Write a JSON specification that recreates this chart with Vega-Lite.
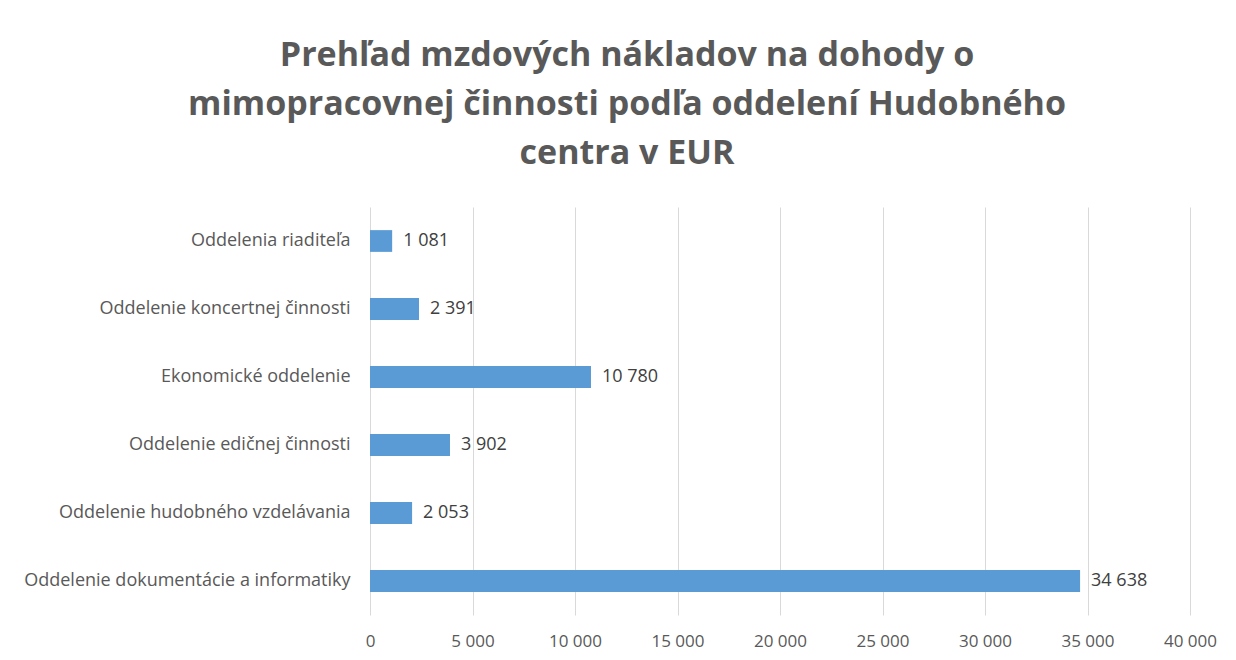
{
  "$schema": "https://vega.github.io/schema/vega-lite/v6.json",
  "autosize": "none",
  "width": 820,
  "height": 408,
  "padding": {"left": 370, "top": 207, "right": 46, "bottom": 45},
  "background": "white",
  "config": {
    "locale": {"number": {"decimal": ",", "thousands": " ", "grouping": [3], "currency": ["", " €"]}},
    "view": {"stroke": null},
    "font": "Open Sans"
  },
  "title": {
    "text": ["Prehľad mzdových nákladov na dohody o", "mimopracovnej činnosti podľa oddelení Hudobného", "centra v EUR"],
    "font": "Open Sans",
    "fontSize": 34,
    "fontWeight": "bold",
    "color": "#595959",
    "lineHeight": 49,
    "anchor": "middle",
    "dx": -153,
    "offset": 36
  },
  "data": {
    "values": [
      {"oddelenie": "Oddelenia riaditeľa", "naklady": 1081},
      {"oddelenie": "Oddelenie koncertnej činnosti", "naklady": 2391},
      {"oddelenie": "Ekonomické oddelenie", "naklady": 10780},
      {"oddelenie": "Oddelenie edičnej činnosti", "naklady": 3902},
      {"oddelenie": "Oddelenie hudobného vzdelávania", "naklady": 2053},
      {"oddelenie": "Oddelenie dokumentácie a informatiky", "naklady": 34638}
    ]
  },
  "encoding": {
    "y": {
      "field": "oddelenie",
      "type": "nominal",
      "sort": null,
      "title": null,
      "scale": {"paddingInner": 0.68, "paddingOuter": 0.34},
      "axis": {"domain": false, "ticks": false, "labelPadding": 20, "labelFontSize": 18, "labelColor": "#595959", "labelFont": "Open Sans", "labelLimit": 400}
    },
    "x": {
      "field": "naklady",
      "type": "quantitative",
      "title": null,
      "scale": {"domain": [0, 40000], "nice": false},
      "axis": {"values": [0, 5000, 10000, 15000, 20000, 25000, 30000, 35000, 40000], "format": ",d", "domain": false, "ticks": false, "labelFlush": false, "gridColor": "#d9d9d9", "gridWidth": 1, "labelPadding": 18, "labelFontSize": 17, "labelColor": "#595959", "labelFont": "Open Sans"}
    }
  },
  "layer": [
    {"mark": {"type": "bar", "color": "#5b9bd5"}},
    {
      "mark": {"type": "text", "align": "left", "dx": 11, "fontSize": 18, "color": "#404040", "font": "Open Sans"},
      "encoding": {"text": {"field": "naklady", "type": "quantitative", "format": ",d"}}
    }
  ]
}
